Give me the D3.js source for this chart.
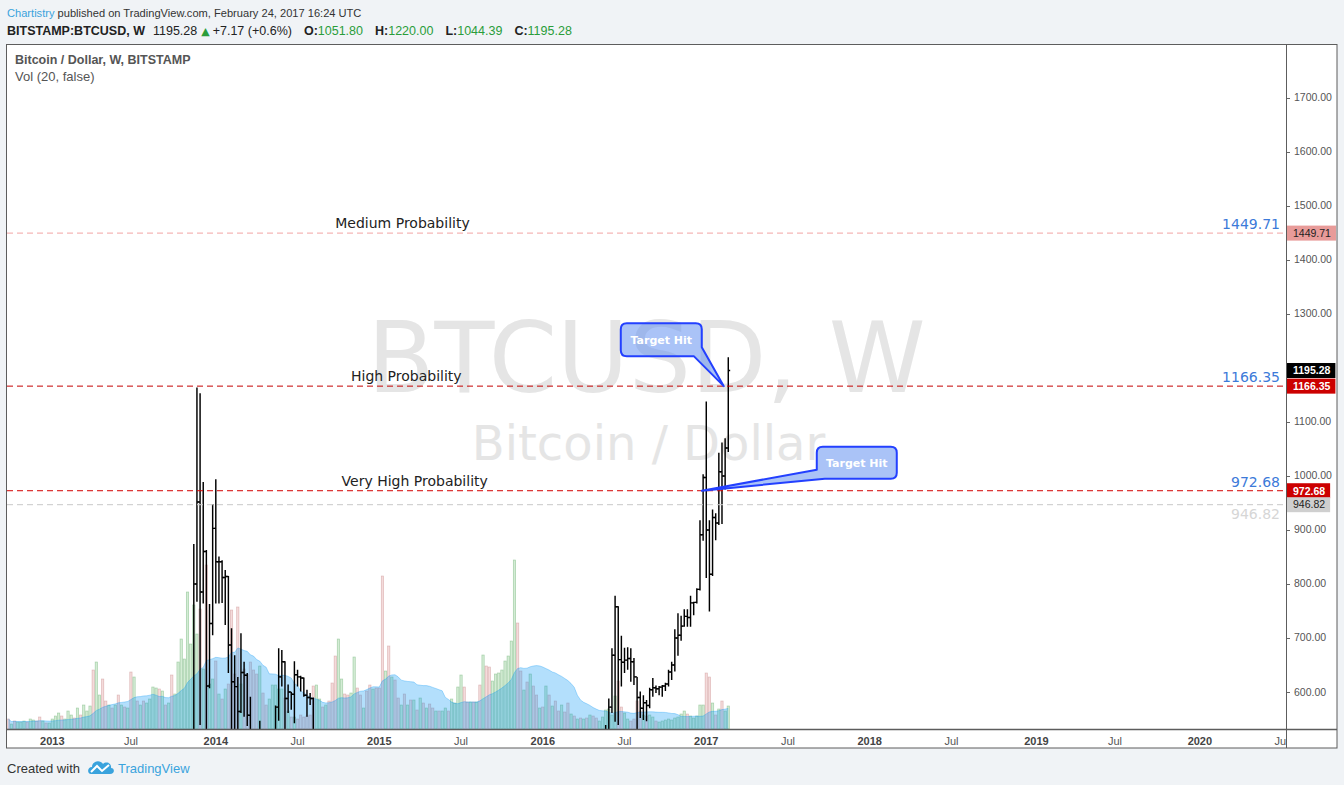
<!DOCTYPE html>
<html>
<head>
<meta charset="utf-8">
<title>BTCUSD, W - Chartistry</title>
<script src="https://d3js.org/d3.v7.min.js"></script>
<style>
  body { margin: 0; background: #f0f3f6; }
  svg { display: block; font-family: "Liberation Sans", Arial, sans-serif; }
</style>
</head>
<body>
<svg width="1344" height="785"></svg>
<script>
// weekly volume, Bitstamp BTCUSD, first week starts 2012-10-01 (thousand BTC)
var volStart = "2012-10-01";
var volume = [
  10, 5, 8, 7, 7, 8, 7, 10, 9, 8,
  12, 8, 6, 6, 10, 13, 16, 13, 10, 18,
  14, 11, 21, 14, 24, 18, 23, 59, 67, 34,
  50, 28, 24, 21, 24, 34, 24, 22, 21, 57,
  52, 28, 24, 28, 26, 30, 42, 41, 40, 38,
  24, 26, 54, 35, 67, 90, 70, 137, 85, 124,
  95, 120, 60, 164, 45, 50, 68, 35, 30, 40,
  45, 119, 55, 122, 45, 60, 55, 67, 59, 55,
  63, 36, 24, 30, 44, 44, 40, 40, 31, 18,
  12, 12, 10, 14, 12, 13, 14, 43, 44, 30,
  22, 24, 28, 46, 73, 90, 50, 35, 34, 36,
  72, 41, 34, 21, 38, 44, 40, 41, 41, 153,
  58, 83, 52, 49, 31, 24, 35, 24, 29, 29,
  19, 31, 26, 21, 25, 21, 18, 18, 18, 21,
  18, 30, 26, 42, 54, 42, 27, 27, 27, 27,
  44, 74, 63, 62, 48, 55, 56, 59, 68, 73,
  88, 169, 106, 58, 39, 47, 55, 43, 34, 21,
  22, 43, 34, 23, 28, 18, 24, 17, 26, 15,
  13, 10, 11, 10, 11, 14, 13, 11, 8, 12,
  19, 20, 14, 33, 48, 22, 16, 10, 8, 10,
  28, 18, 14, 13, 14, 12, 8, 7, 8, 9,
  10, 9, 11, 12, 15, 18, 15, 13, 11, 13,
  24, 24, 56, 52, 26, 14, 20, 28, 18, 23
];
// u = week closed up, d = week closed down
var volDir = ("duduu uduud duduu uuduu ududu uuduu ddudu dudud ududu uuudu " +
  "duduu uuuuu ududu ududu ddddu ddddd udduu uuudu duddd ddduu " +
  "duddd uuddu uddud duddd ududd ududu dudud duduu duuuu ddudu " +
  "duddu uuuuu uuddu duddu dudud duddu dudud udduu uuuud duudd " +
  "ddudu uduuu uuuuu uduuu uuddu duduu").replace(/ /g, "");

// weekly OHLC where the price is inside the visible range
var seg1Start = "2013-11-18";
var seg1 = [
  [440, 874, 378, 800], [800, 1164, 767, 952], [952, 1153, 539, 785], [785, 989, 764, 860],
  [860, 863, 455, 611], [611, 763, 607, 727], [727, 948, 705, 903], [903, 994, 764, 841],
  [841, 851, 764, 841], [841, 844, 765, 812], [812, 826, 724, 814], [814, 815, 635, 687],
  [687, 718, 520, 619], [619, 668, 500, 610], [610, 628, 420, 564], [564, 709, 561, 636],
  [636, 656, 554, 631], [631, 635, 537, 557], [557, 591, 450, 460], [460, 500, 420, 445],
  [445, 470, 340, 415], [415, 547, 380, 500], [500, 520, 440, 460], [460, 470, 420, 440],
  [440, 455, 425, 442], [442, 490, 430, 480], [480, 575, 478, 572], [572, 681, 547, 628],
  [628, 678, 610, 656], [656, 657, 520, 588], [588, 614, 561, 600], [600, 600, 567, 596],
  [596, 657, 542, 632], [632, 641, 610, 628], [628, 630, 601, 626], [626, 627, 591, 594],
  [594, 604, 554, 590], [590, 598, 576, 588], [588, 590, 480, 500]
];
var seg2Start = "2016-05-23";
var seg2 = [
  [444, 539, 440, 528], [528, 588, 515, 572], [572, 681, 561, 668], [668, 778, 545, 758],
  [758, 759, 539, 660], [660, 704, 610, 655], [655, 682, 635, 659], [659, 683, 641, 662],
  [662, 681, 619, 656], [656, 663, 613, 628], [628, 628, 480, 590], [590, 601, 552, 570],
  [570, 594, 548, 580], [580, 585, 546, 575], [575, 608, 570, 604], [604, 626, 591, 608],
  [608, 612, 598, 606], [606, 611, 594, 609], [609, 613, 591, 611], [611, 617, 602, 615],
  [615, 641, 610, 637], [637, 656, 622, 650], [650, 716, 638, 700], [700, 746, 667, 705],
  [705, 741, 695, 722], [722, 753, 721, 740], [740, 753, 721, 738], [738, 778, 721, 765],
  [765, 767, 742, 766], [766, 792, 764, 790], [790, 918, 788, 891], [891, 1003, 880, 997],
  [997, 1138, 811, 900], [900, 918, 749, 818], [818, 938, 815, 923], [923, 931, 881, 913],
  [913, 1043, 909, 1008], [1008, 1062, 911, 1000], [1000, 1070, 975, 1051.80],
  [1051.80, 1220.00, 1044.39, 1195.28]
];

var priceTicks = [600, 700, 800, 900, 1000, 1100, 1200, 1300, 1400, 1500, 1600, 1700];
var yearLabels = ["2013", "2014", "2015", "2016", "2017", "2018", "2019", "2020"];
var midLabel = "Jul";

var levelPrices = [1449.71, 1166.35, 972.68, 946.82];
var levelNames = ["Medium Probability", "High Probability", "Very High Probability", ""];
var levelNameDates = ["2014-09-29", "2014-11-03", "2014-10-13", null];
var hitDates = ["2017-02-10", "2016-12-23"];
var hitPrices = [1166.35, 972.68];
var changeText = "+7.17 (+0.6%)";

var svg = d3.select("svg");
var plot = {left: 7, right: 1286, top: 45, bottom: 729};
var frameRight = 1337, frameBottom = 748;
var barStep = 3.144;
var green = "#2a9d3a";

var parse = d3.utcParse("%Y-%m-%d");
var weeks = volume.map(function(v, i) { return d3.utcDay.offset(parse(volStart), 7 * i); });

var x = d3.scaleUtc()
    .domain([weeks[0], weeks[weeks.length - 1]])
    .range([plot.left + 1.3, plot.left + 1.3 + barStep * (weeks.length - 1)]);
var y = d3.scaleLinear().domain([531.5, 1798]).range([plot.bottom, plot.top]);
var vy = d3.scaleLinear().domain([0, 170]).range([plot.bottom, plot.bottom - 170]);

function toBars(start, rows) {
  return rows.map(function(r, k) {
    return {date: d3.utcDay.offset(parse(start), 7 * k), o: r[0], h: r[1], l: r[2], c: r[3]};
  });
}
var bars = toBars(seg1Start, seg1).concat(toBars(seg2Start, seg2));
var last = bars[bars.length - 1];

var volMA = volume.map(function(v, i) {
  return d3.mean(volume.slice(Math.max(0, i - 19), i + 1));
});

// ---- frame ----
svg.append("rect")
    .attr("x", 6.5).attr("y", 44.5)
    .attr("width", frameRight - 6.5).attr("height", frameBottom - 44.5)
    .attr("fill", "#fff").attr("stroke", "#5d5d5d");

svg.append("clipPath").attr("id", "pane")
  .append("rect")
    .attr("x", plot.left).attr("y", plot.top)
    .attr("width", plot.right - plot.left).attr("height", plot.bottom - plot.top);
svg.append("clipPath").attr("id", "timeaxis")
  .append("rect")
    .attr("x", plot.left).attr("y", plot.bottom)
    .attr("width", plot.right - plot.left).attr("height", frameBottom - plot.bottom);

var pane = svg.append("g").attr("clip-path", "url(#pane)");

// watermark
var cx = (plot.left + plot.right) / 2, cy = (plot.top + plot.bottom) / 2;
pane.append("text")
    .attr("x", cx).attr("y", cy + 5)
    .attr("text-anchor", "middle")
    .attr("font-family", "DejaVu Sans")
    .attr("font-size", 98)
    .attr("fill", "#e5e5e5")
    .text("BTCUSD, W");
pane.append("text")
    .attr("x", cx + 2).attr("y", cy + 73)
    .attr("text-anchor", "middle")
    .attr("font-family", "DejaVu Sans")
    .attr("font-size", 48)
    .attr("fill", "#e5e5e5")
    .text("Bitcoin / Dollar");

// volume bars
var bw = barStep * 0.74;
pane.append("g")
  .selectAll("rect")
  .data(volume)
  .enter().append("rect")
    .attr("x", function(d, i) { return x(weeks[i]) - bw / 2; })
    .attr("y", function(d) { return vy(d); })
    .attr("width", bw)
    .attr("height", function(d) { return vy(0) - vy(d); })
    .attr("fill", function(d, i) { return volDir[i] == "u" ? "rgba(76,175,80,0.24)" : "rgba(205,90,90,0.22)"; })
    .attr("stroke", function(d, i) { return volDir[i] == "u" ? "rgba(60,150,70,0.38)" : "rgba(170,80,80,0.32)"; })
    .attr("stroke-width", 0.7);

// volume moving average (20)
var maArea = d3.area()
    .x(function(d, i) { return x(weeks[i]); })
    .y0(vy(0))
    .y1(function(d) { return vy(d); });
var maLine = d3.line()
    .x(function(d, i) { return x(weeks[i]); })
    .y(function(d) { return vy(d); });
pane.append("path")
    .datum(volMA)
    .attr("d", maArea)
    .attr("fill", "rgba(3,150,245,0.3)");
pane.append("path")
    .datum(volMA)
    .attr("d", maLine)
    .attr("fill", "none")
    .attr("stroke", "rgba(3,150,245,0.3)")
    .attr("stroke-width", 1);

// OHLC bars
pane.append("g")
  .selectAll("path")
  .data(bars)
  .enter().append("path")
    .attr("d", function(d) {
      var bx = x(d.date);
      return "M" + bx + "," + y(d.h) + "V" + y(d.l) +
        "M" + (bx - 1.9) + "," + y(d.o) + "H" + bx +
        "M" + bx + "," + y(d.c) + "H" + (bx + 1.9);
    })
    .attr("fill", "none")
    .attr("stroke", "#000")
    .attr("stroke-width", 1.45);

// horizontal levels
var levelColor = ["#f2a3a3", "#c40000", "#d40000", "#c8c8c8"];
var levelText = ["#3c7ad9", "#3c7ad9", "#3c7ad9", "#d6d6d6"];
levelPrices.forEach(function(p, k) {
  pane.append("line")
      .attr("x1", plot.left).attr("x2", plot.right)
      .attr("y1", y(p)).attr("y2", y(p))
      .attr("stroke", levelColor[k])
      .attr("stroke-dasharray", "6,4");
  pane.append("text")
      .attr("x", plot.right - 6)
      .attr("y", k == 3 ? y(p) + 14 : y(p) - 4)
      .attr("text-anchor", "end")
      .attr("font-family", "DejaVu Sans")
      .attr("font-size", 14)
      .attr("fill", levelText[k])
      .text(p.toFixed(2));
  if (levelNames[k]) {
    pane.append("text")
        .attr("x", x(parse(levelNameDates[k])))
        .attr("y", y(p) - 5)
        .attr("font-family", "DejaVu Sans")
        .attr("font-size", 14)
        .attr("fill", "#222")
        .text(levelNames[k]);
  }
});

// "Target Hit" callouts
function callout(tx, ty, bx, by, w, h, corner) {
  var r = 6, x0 = bx, y0 = by, x1 = bx + w, y1 = by + h, p;
  if (corner == "br") {
    p = "M" + (x0 + r) + "," + y0 + "H" + (x1 - r) + "Q" + x1 + "," + y0 + " " + x1 + "," + (y0 + r) +
      "V" + (y1 - 9) + "L" + tx + "," + ty + "L" + (x1 - 8) + "," + y1 +
      "H" + (x0 + r) + "Q" + x0 + "," + y1 + " " + x0 + "," + (y1 - r) +
      "V" + (y0 + r) + "Q" + x0 + "," + y0 + " " + (x0 + r) + "," + y0 + "Z";
  } else {
    p = "M" + (x0 + r) + "," + y0 + "H" + (x1 - r) + "Q" + x1 + "," + y0 + " " + x1 + "," + (y0 + r) +
      "V" + (y1 - r) + "Q" + x1 + "," + y1 + " " + (x1 - r) + "," + y1 +
      "H" + (x0 + 8) + "L" + tx + "," + ty + "L" + x0 + "," + (y1 - 9) +
      "V" + (y0 + r) + "Q" + x0 + "," + y0 + " " + (x0 + r) + "," + y0 + "Z";
  }
  pane.append("path")
      .attr("d", p)
      .attr("fill", "rgba(100,145,240,0.55)")
      .attr("stroke", "#2340ff")
      .attr("stroke-width", 2)
      .attr("stroke-linejoin", "round");
  pane.append("text")
      .attr("x", bx + w / 2).attr("y", by + h / 2 + 4)
      .attr("text-anchor", "middle")
      .attr("font-family", "DejaVu Sans")
      .attr("font-weight", "bold")
      .attr("font-size", 11)
      .attr("fill", "#fff")
      .text("Target Hit");
}
var t1x = x(parse(hitDates[0])), t1y = y(hitPrices[0]);
callout(t1x, t1y, t1x - 103, t1y - 63, 81, 33, "br");
var t2x = x(parse(hitDates[1])), t2y = y(hitPrices[1]);
callout(t2x, t2y, t2x + 115, t2y - 44, 80, 32, "bl");

// ---- price axis ----
svg.append("line")
    .attr("x1", plot.right + 0.5).attr("x2", plot.right + 0.5)
    .attr("y1", 44.5).attr("y2", frameBottom)
    .attr("stroke", "#5d5d5d");
svg.append("line")
    .attr("x1", 6.5).attr("x2", frameRight)
    .attr("y1", plot.bottom + 0.5).attr("y2", plot.bottom + 0.5)
    .attr("stroke", "#5d5d5d").attr("stroke-width", 1.5);

// axis price labels (tags) hide any tick label they would cover
var tagValues = [levelPrices[0], last.c, levelPrices[1], levelPrices[2], levelPrices[3]];
var tagFill = ["#e89b99", "#000", "#cc0000", "#cc0000", "#cfcfcf"];
var tagInk = ["#222", "#fff", "#fff", "#fff", "#222"];

var yAxis = svg.append("g");
priceTicks.forEach(function(p) {
  var hidden = tagValues.some(function(t) { return Math.abs(y(t) - y(p)) < 11; });
  yAxis.append("line")
      .attr("x1", plot.right + 1).attr("x2", plot.right + 4)
      .attr("y1", Math.round(y(p)) + 0.5).attr("y2", Math.round(y(p)) + 0.5)
      .attr("stroke", "#666");
  if (hidden) return;
  yAxis.append("text")
      .attr("x", plot.right + 8).attr("y", y(p) + 3.5)
      .attr("font-size", 10.5)
      .attr("fill", "#555")
      .text(p.toFixed(2));
});

tagValues.forEach(function(p, k) {
  var g = svg.append("g");
  var t = g.append("text")
      .attr("x", plot.right + 7).attr("y", y(p) + 3.8)
      .attr("font-size", 10.5)
      .attr("font-weight", tagInk[k] == "#fff" ? "bold" : "normal")
      .attr("fill", tagInk[k])
      .text(p.toFixed(2));
  var tw = t.node().getComputedTextLength();
  g.insert("rect", "text")
      .attr("x", plot.right + 1).attr("y", y(p) - 7.5)
      .attr("width", tw + 11).attr("height", 15)
      .attr("fill", tagFill[k]);
});

// ---- time axis ----
var xAxis = svg.append("g").attr("clip-path", "url(#timeaxis)");
yearLabels.forEach(function(yr) {
  var jan = d3.utcMonday.ceil(new Date(Date.UTC(+yr, 0, 1)));
  var jul = d3.utcMonday.ceil(new Date(Date.UTC(+yr, 6, 1)));
  xAxis.append("text")
      .attr("x", x(jan)).attr("y", 745)
      .attr("text-anchor", "middle")
      .attr("font-size", 11).attr("font-weight", "bold")
      .attr("fill", "#444")
      .text(yr);
  xAxis.append("text")
      .attr("x", x(jul)).attr("y", 745)
      .attr("text-anchor", "middle")
      .attr("font-size", 11)
      .attr("fill", "#555")
      .text(midLabel);
});

// ---- legend inside pane ----
svg.append("text")
    .attr("x", 15).attr("y", 64)
    .attr("font-size", 12.5).attr("font-weight", "bold")
    .attr("fill", "#555")
    .text("Bitcoin / Dollar, W, BITSTAMP");
svg.append("text")
    .attr("x", 15).attr("y", 81)
    .attr("font-size", 13)
    .attr("fill", "#555")
    .text("Vol (20, false)");

// ---- header ----
var h1 = svg.append("text").attr("x", 7).attr("y", 17).attr("font-size", 11.1).attr("fill", "#333");
h1.append("tspan").attr("fill", "#3aa3dd").text("Chartistry");
h1.append("tspan").text(" published on TradingView.com, February 24, 2017 16:24 UTC");

var h2 = svg.append("text").attr("x", 7).attr("y", 35).attr("font-size", 12.5).attr("fill", "#222");
h2.append("tspan").attr("font-weight", "bold").text("BITSTAMP:BTCUSD, W");
h2.append("tspan").attr("dx", 8).text(last.c.toFixed(2));
h2.append("tspan").attr("dx", 4).attr("fill", green).attr("font-family", "DejaVu Sans").attr("font-size", 11).text("\u25B2");
h2.append("tspan").attr("dx", 3).text(changeText);
[["O:", last.o], ["H:", last.h], ["L:", last.l], ["C:", last.c]].forEach(function(q) {
  h2.append("tspan").attr("dx", 12).attr("font-weight", "bold").text(q[0]);
  h2.append("tspan").attr("fill", green).text(q[1].toFixed(2));
});

// ---- footer ----
svg.append("text")
    .attr("x", 7).attr("y", 773)
    .attr("font-size", 13).attr("fill", "#333")
    .text("Created with");
var logo = svg.append("g").attr("transform", "translate(88,758)");
logo.append("path")
    .attr("d", "M3,16 C-1,16 -1,9 4,9 C4,3 12,1 15,6 C18,3 24,5 23,10 C27,10 27,16 22,16 Z")
    .attr("fill", "#3aa3dd");
logo.append("path")
    .attr("d", "M3,14 L9,8 L14,13 L21,7")
    .attr("fill", "none").attr("stroke", "#fff").attr("stroke-width", 2);
svg.append("text")
    .attr("x", 118).attr("y", 773)
    .attr("font-size", 13).attr("fill", "#3aa3dd")
    .text("TradingView");
</script>
</body>
</html>
